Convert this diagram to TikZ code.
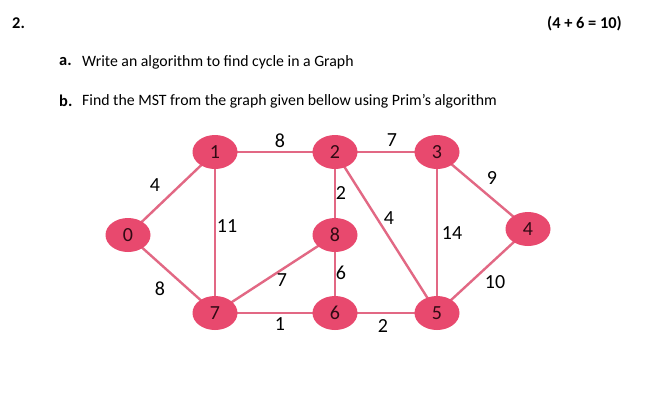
\documentclass[tikz,border=0pt]{standalone}
\usepackage{fontspec}
\setmainfont{Carlito}
\usepackage{tikz}
\usetikzlibrary{shapes.geometric,positioning}
\definecolor{roseNoeud}{RGB}{232,73,110}
\definecolor{roseArete}{RGB}{226,104,132}
\definecolor{texteNoeud}{RGB}{50,10,20}

\begin{document}
\begin{tikzpicture}[x=1pt,y=-1pt,font=\fontsize{15.8}{18}\selectfont,
  sommet/.style={ellipse,fill=roseNoeud,minimum width=45pt,minimum height=34pt,
                 inner sep=0pt,text=texteNoeud,font=\fontsize{20}{22}\selectfont},
  arete/.style={roseArete,line width=2.4pt},
  poids/.style={font=\fontsize{20}{22}\selectfont,text=black,inner sep=1pt},
  titre/.style={font=\fontsize{16.4}{18}\selectfont\bfseries,inner sep=0pt}]

  \useasboundingbox[fill=white] (0,0) rectangle (656,402);

  % Question text
  \node[titre,anchor=west] (Q) at (12,23) {2.};
  \node[titre,anchor=east] (pts) at (622,24) {(4 + 6 = 10)};
  \node[titre,anchor=west] (Qa) at (59,62) {a.};
  \node[anchor=west,inner sep=0pt] (Ta) at (82,62) {Write an algorithm to find cycle in a Graph};
  \node[titre,anchor=west] (Qb) at (59,101) {b.};
  \node[anchor=west,inner sep=0pt] (Tb) at (82,101) {Find the MST from the graph given bellow using Prim’s algorithm};

  % Edges (drawn under the vertices)
  \coordinate (c0) at (128,235);
  \coordinate (c1) at (215,152);
  \coordinate (c2) at (335,152);
  \coordinate (c3) at (437,152);
  \coordinate (c4) at (528,229);
  \coordinate (c5) at (437,313);
  \coordinate (c6) at (335,313);
  \coordinate (c7) at (215,313);
  \coordinate (c8) at (335,235);

  \draw[arete] (c0)--(c1);
  \draw[arete] (c0)--(c7);
  \draw[arete] (c1)--(c2);
  \draw[arete] (c1)--(c7);
  \draw[arete] (c2)--(c3);
  \draw[arete] (c2)--(c8);
  \draw[arete] (c2)--(c5);
  \draw[arete] (c3)--(c4);
  \draw[arete] (c3)--(c5);
  \draw[arete] (c4)--(c5);
  \draw[arete] (c7)--(c8);
  \draw[arete] (c8)--(c6);
  \draw[arete] (c7)--(c6);
  \draw[arete] (c6)--(c5);

  % Vertices
  \node[sommet] (V0) at (c0) {0};
  \node[sommet] (V1) at (c1) {1};
  \node[sommet] (V2) at (c2) {2};
  \node[sommet] (V3) at (c3) {3};
  \node[sommet] (V4) at (c4) {4};
  \node[sommet] (V5) at (c5) {5};
  \node[sommet] (V6) at (c6) {6};
  \node[sommet] (V7) at (c7) {7};
  \node[sommet] (V8) at (c8) {8};

  % Weights
  \node[poids] (w01) at (155,185) {4};
  \node[poids] (w07) at (160,289) {8};
  \node[poids] (w12) at (280,141) {8};
  \node[poids] (w17) at (227,226) {11};
  \node[poids] (w23) at (392,140) {7};
  \node[poids] (w28) at (341,193) {2};
  \node[poids] (w25) at (389,218) {4};
  \node[poids] (w34) at (492,178) {9};
  \node[poids] (w35) at (452,233) {14};
  \node[poids] (w45) at (495,282) {10};
  \node[poids] (w78) at (282,280) {7};
  \node[poids] (w86) at (341,273) {6};
  \node[poids] (w76) at (280,324) {1};
  \node[poids] (w65) at (383,326) {2};
\end{tikzpicture}
\end{document}
